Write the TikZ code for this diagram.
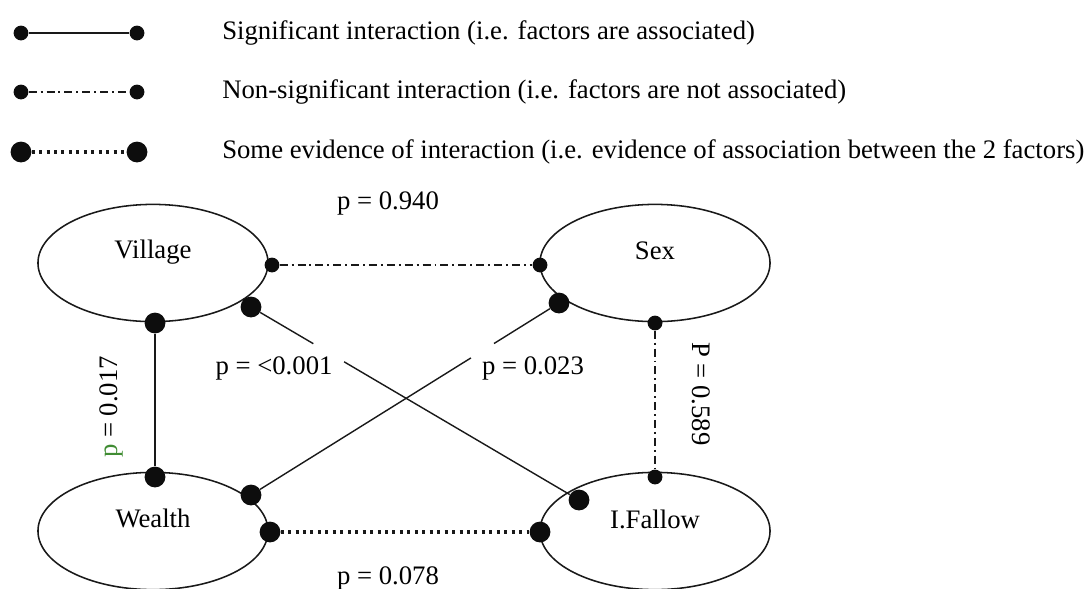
\documentclass[tikz,border=0pt]{standalone}
\usepackage{fontspec}
\setmainfont{Liberation Serif}
\usetikzlibrary{calc}
\usetikzlibrary{shapes.geometric}
\def\normaledge{1pt}
\def\legendedge{1.9pt}
\definecolor{edgeblack}{rgb}{0.1,0.1,0.1}
\definecolor{vertexblack}{rgb}{0.05,0.05,0.05}
\definecolor{pgreen}{rgb}{0.25,0.55,0.2}
\tikzset{
    factor/.style={ellipse, draw=edgeblack, line width=1.1pt, minimum width=5.75cm, minimum height=2.93cm, inner sep=0pt},
    smalldot/.style={circle, fill=vertexblack, inner sep=0pt, minimum size=0.37cm},
    bigdot/.style={circle, fill=vertexblack, inner sep=0pt, minimum size=0.52cm},
    sig/.style={line width=\normaledge, color=edgeblack},
    nonsig/.style={line width=1.1pt, color=edgeblack, dash pattern=on 5.7pt off 2.8pt on 1.4pt off 2.8pt},
    someev/.style={line width=2.5pt, color=edgeblack, dash pattern=on 2.1pt off 3.2pt},
    pval/.style={inner sep=0pt}
}

\begin{document}
\begin{tikzpicture}[x=0.025cm, y=-0.025cm, every node/.style={font=\fontsize{19}{22}\selectfont}]
    \useasboundingbox (0,0) rectangle (1084,588);

    % key
        \node [smalldot] (k1a) at (21,33){};
        \node [smalldot] (k1b) at (137,33){};
    \draw [line width=\legendedge,color=edgeblack] (k1a) -- (k1b);
        \node [pval,anchor=west] (k1t) at (222,33){Significant interaction (i.e. factors are associated)};

        \node [smalldot] (k2a) at (21,92){};
        \node [smalldot] (k2b) at (137,92){};
    \draw [nonsig] (k2a) -- (k2b);
        \node [pval,anchor=west] (k2t) at (222,92){Non-significant interaction (i.e. factors are not associated)};

        \node [bigdot] (k3a) at (21,152){};
        \node [bigdot] (k3b) at (137,152){};
    \draw [someev] (k3a) -- (k3b);
        \node [pval,anchor=west] (k3t) at (222,152){Some evidence of interaction (i.e. evidence of association between the 2 factors)};

    % the four factors
        \node [factor,label={[yshift=0.28cm]center:Village}] (village) at (153,263){};
        \node [factor,label={[yshift=0.3cm]center:Sex}] (sex) at (655,263){};
        \node [factor,label={[yshift=0.32cm]center:Wealth}] (wealth) at (153,531){};
        \node [factor,label={[yshift=0.28cm]center:I.Fallow}] (fallow) at (655,531){};

    % end points on the ellipses
        \node [smalldot] (vs1) at (272,265){};
        \node [smalldot] (vs2) at (540,265){};
        \node [bigdot] (vw1) at (155,323){};
        \node [bigdot] (vw2) at (155,477){};
        \node [smalldot] (sf1) at (655,323){};
        \node [smalldot] (sf2) at (655,477){};
        \node [bigdot] (wf1) at (270,532){};
        \node [bigdot] (wf2) at (540,532){};
        \node [bigdot] (vf1) at (251,307){};
        \node [bigdot] (vf2) at (579,500){};
        \node [bigdot] (sw1) at (559,303){};
        \node [bigdot] (sw2) at (251,495){};

    \draw [nonsig] (vs1) -- (vs2);
    \draw [sig] (vw1) -- (vw2);
    \draw [nonsig] (sf1) -- (sf2);
    \draw [someev] (wf1) -- (wf2);

    % the two diagonals break near their labels
    \draw [sig] (vf1) -- ($(vf1)!0.19!(vf2)$);
    \draw [sig] ($(vf1)!0.284!(vf2)$) -- (vf2);
    \draw [sig] (sw1) -- ($(sw1)!0.211!(sw2)$);
    \draw [sig] ($(sw1)!0.286!(sw2)$) -- (sw2);

        \node [pval] (pvs) at (388,203){p = 0.940};
        \node [pval,rotate=90] (pvw) at (111,407){\textcolor{pgreen}{p} = 0.017};
        \node [pval,rotate=-90] (psf) at (701,394){P = 0.589};
        \node [pval] (pwf) at (388,578){p = 0.078};
        \node [pval] (pvf) at (274,368){p = <0.001};
        \node [pval] (psw) at (533,368){p = 0.023};

\end{tikzpicture}
\end{document}
